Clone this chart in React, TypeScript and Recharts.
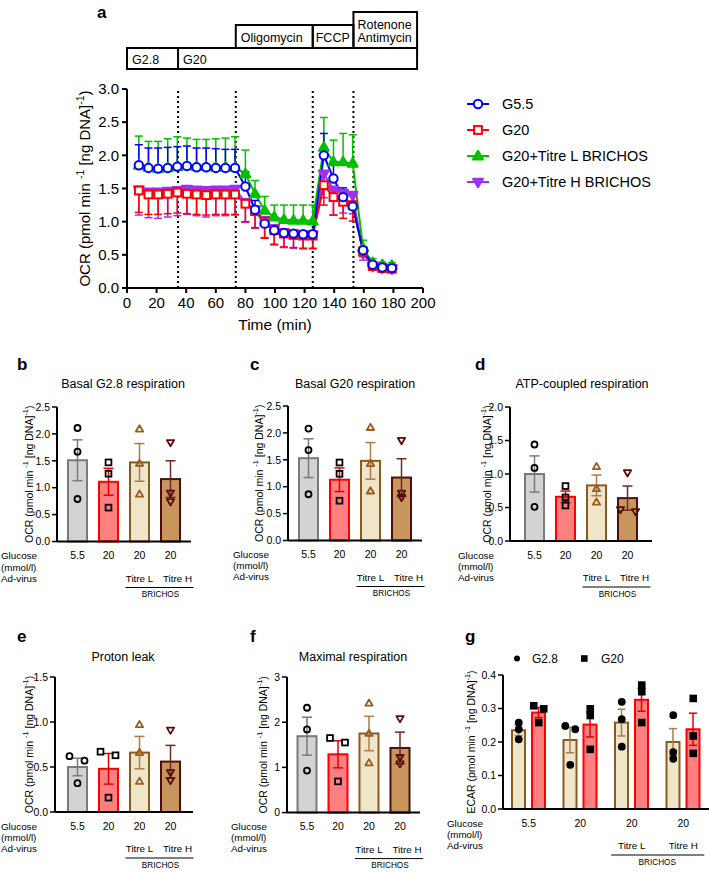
import React from 'react'
import { LineChart, Line, XAxis, YAxis, ReferenceLine, ErrorBar, ComposedChart, Bar } from 'recharts'

const FONT = '"Liberation Sans", Arial, Helvetica, sans-serif'

// ---- a: OCR trace over the assay ----
const times = [8, 14.5, 21, 27.5, 34, 40.5, 47, 53.5, 60, 66.5, 73, 80, 86.5, 93, 99.5, 106, 112.5, 119, 125.5, 133, 139.5, 146, 152.5, 159.5, 166, 172.5, 179]
const ocrG55 = [1.85, 1.81, 1.8, 1.81, 1.83, 1.84, 1.82, 1.82, 1.81, 1.81, 1.81, 1.53, 1.18, 0.97, 0.87, 0.83, 0.82, 0.81, 0.81, 2.0, 1.65, 1.37, 1.23, 0.57, 0.35, 0.31, 0.3]
const ocrG55Sem = [0.31, 0.3, 0.31, 0.31, 0.3, 0.3, 0.29, 0.29, 0.29, 0.28, 0.28, 0.22, 0.14, 0.09, 0.06, 0.05, 0.05, 0.05, 0.05, 0.33, 0.21, 0.14, 0.16, 0.05, 0.03, 0.02, 0.02]
const ocrG20 = [1.47, 1.41, 1.41, 1.42, 1.44, 1.42, 1.41, 1.4, 1.41, 1.41, 1.41, 1.27, 1.16, 1.0, 0.87, 0.82, 0.8, 0.79, 0.79, 1.55, 1.37, 1.3, 1.25, 0.55, 0.33, 0.3, 0.29]
const ocrG20Sem = [0.33, 0.3, 0.3, 0.3, 0.31, 0.3, 0.3, 0.3, 0.3, 0.3, 0.3, 0.27, 0.25, 0.25, 0.21, 0.2, 0.19, 0.19, 0.19, 0.3, 0.27, 0.25, 0.24, 0.08, 0.04, 0.03, 0.03]
const ocrTitreL = [1.85, 1.82, 1.8, 1.81, 1.83, 1.84, 1.83, 1.83, 1.82, 1.82, 1.82, 1.72, 1.42, 1.17, 1.07, 1.03, 1.02, 1.02, 1.01, 2.12, 1.9, 1.9, 1.88, 0.6, 0.38, 0.35, 0.34]
const ocrTitreLSem = [0.44, 0.39, 0.41, 0.44, 0.45, 0.42, 0.41, 0.41, 0.43, 0.44, 0.46, 0.36, 0.2, 0.21, 0.18, 0.22, 0.23, 0.23, 0.24, 0.45, 0.33, 0.43, 0.43, 0.12, 0.06, 0.04, 0.04]
const ocrTitreH = [1.48, 1.45, 1.45, 1.46, 1.47, 1.49, 1.48, 1.47, 1.48, 1.48, 1.49, 1.29, 1.18, 1.02, 0.9, 0.84, 0.82, 0.8, 0.8, 1.72, 1.48, 1.43, 1.4, 0.52, 0.33, 0.3, 0.29]
const ocrTitreHSem = [0.38, 0.39, 0.4, 0.39, 0.38, 0.38, 0.39, 0.4, 0.39, 0.39, 0.39, 0.3, 0.28, 0.26, 0.25, 0.23, 0.22, 0.21, 0.21, 0.36, 0.38, 0.3, 0.28, 0.1, 0.04, 0.03, 0.03]
const injectTimes = [34.5, 73.5, 125.5, 153]
const timeTicks = [0, 20, 40, 60, 80, 100, 120, 140, 160, 180, 200]
const ocrTicks = [0, 0.5, 1, 1.5, 2, 2.5, 3]

// ---- b-f: respiration parameters per condition ----
const glucoseLabels = ['5.5', '20', '20', '20']
const virusLabels = ['', '', 'Titre L', 'Titre H']

const basalG28Mean = [1.51, 1.11, 1.47, 1.16]
const basalG28Sem = [0.38, 0.25, 0.35, 0.34]
const basalG28Pts = [[2.11, 1.67, 0.79], [1.47, 1.26, 0.63], [2.09, 1.45, 0.88], [1.84, 0.9, 0.74]]

const basalG20Mean = [1.53, 1.13, 1.48, 1.17]
const basalG20Sem = [0.36, 0.22, 0.34, 0.35]
const basalG20Pts = [[2.08, 1.68, 0.86], [1.45, 1.24, 0.74], [2.1, 1.43, 0.92], [1.86, 0.88, 0.8]]

const atpMean = [1.0, 0.66, 0.83, 0.64]
const atpSem = [0.27, 0.085, 0.155, 0.18]
const atpPts = [[1.44, 1.09, 0.51], [0.82, 0.65, 0.53], [1.11, 0.78, 0.58], [1.02, 0.47, 0.44]]

const leakMean = [0.5, 0.48, 0.66, 0.56]
const leakSem = [0.097, 0.17, 0.18, 0.18]
const leakPts = [[0.62, 0.57, 0.32], [0.67, 0.63, 0.16], [0.97, 0.66, 0.34], [0.91, 0.44, 0.35]]

const maxMean = [1.69, 1.29, 1.75, 1.43]
const maxSem = [0.42, 0.3, 0.38, 0.35]
const maxPts = [[2.32, 1.84, 0.93], [1.65, 1.55, 0.69], [2.42, 1.75, 1.1], [2.08, 1.22, 1.08]]

// ---- g: ECAR at G2.8 and G20 ----
const ecarG28Mean = [0.235, 0.206, 0.258, 0.2]
const ecarG28Sem = [0.016, 0.038, 0.04, 0.04]
const ecarG28Pts = [[0.258, 0.238, 0.208], [0.248, 0.238, 0.132], [0.32, 0.268, 0.186], [0.28, 0.17, 0.15]]
const ecarG20Mean = [0.288, 0.252, 0.326, 0.238]
const ecarG20Sem = [0.015, 0.037, 0.034, 0.048]
const ecarG20Pts = [[0.308, 0.299, 0.258], [0.299, 0.279, 0.178], [0.37, 0.35, 0.258], [0.33, 0.218, 0.166]]

// horizontal spread of overlapping replicate points (px)
const noJitter = [[0, 0, 0], [0, 0, 0], [0, 0, 0], [0, 0, 0]]
const atpJitter = [[0, 0, 0], [0, 0, 0], [0, 0, 0], [0, -7, 8]]
const leakJitter = [[-8, 7, 0], [-8, 7, 0], [0, 0, 0], [0, 0, 0]]
const maxJitter = [[0, 0, 0], [-8, 7, 0], [0, 0, 0], [0, 0, 0]]
const ecarG28Jitter = [[0, 0, 0], [-5, 5, 0], [0, 0, 0], [0, 0, 0]]
const ecarG20Jitter = [[-5, 5, 0], [0, 0, 0], [0, 0, 0], [0, 0, 0]]

const BLUE = '#0000ff'
const RED = '#ff0000'
const GREEN = '#00c000'
const PURPLE = '#a030f0'

const MARK_KINDS = ['circle', 'square', 'tri', 'itri']
const MARK_COLORS = ['#000', '#000', '#9a5b1b', '#5a0c0c']
const BAR_FILL = ['#d3d3d3', '#ff8080', '#efe5c9', '#c8965c']
const BAR_STROKE = ['#7a7a7a', '#ff0000', '#8a5a1e', '#4c0e0e']
const SEM_STROKE = ['#7a7a7a', '#e00000', '#a87c4c', '#6a2a22']

const ocrRows = times.map((t, i) => ({
  t,
  g55: ocrG55[i], g55Sem: ocrG55Sem[i],
  g20: ocrG20[i], g20Sem: ocrG20Sem[i],
  tl: ocrTitreL[i], tlSem: ocrTitreLSem[i],
  th: ocrTitreH[i], thSem: ocrTitreHSem[i],
}))

const toRows = (mean: number[], sem: number[], pts: number[][]) =>
  mean.map((m, i) => ({ id: `c${i}`, mean: m, sem: sem[i], p1: pts[i][0], p2: pts[i][1], p3: pts[i][2] }))

const ecarRows = ecarG28Mean.map((m, i) => ({
  id: `c${i}`,
  lo: m, loSem: ecarG28Sem[i], lo1: ecarG28Pts[i][0], lo2: ecarG28Pts[i][1], lo3: ecarG28Pts[i][2],
  hi: ecarG20Mean[i], hiSem: ecarG20Sem[i], hi1: ecarG20Pts[i][0], hi2: ecarG20Pts[i][1], hi3: ecarG20Pts[i][2],
}))

function Glyph({ kind, x, y, s, color, fill, sw = 2 }: any) {
  if (kind === 'circle') return <circle cx={x} cy={y} r={s} fill={fill} stroke={color} strokeWidth={sw} />
  if (kind === 'square') return <rect x={x - s} y={y - s} width={2 * s} height={2 * s} fill={fill} stroke={color} strokeWidth={sw} />
  if (kind === 'tri')
    return <polygon points={`${x},${y - s * 1.15} ${x + s * 1.1},${y + s * 0.75} ${x - s * 1.1},${y + s * 0.75}`} fill={fill} stroke={color} strokeWidth={sw} strokeLinejoin="round" />
  return <polygon points={`${x},${y + s * 1.15} ${x + s * 1.1},${y - s * 0.75} ${x - s * 1.1},${y - s * 0.75}`} fill={fill} stroke={color} strokeWidth={sw} strokeLinejoin="round" />
}

function AxisTitle({ viewBox, gap, size, lead }: any) {
  const cx = viewBox.x + viewBox.width - gap
  const cy = viewBox.y + viewBox.height / 2
  const up = size * 0.4
  return (
    <text x={cx} y={cy} dy={size * 0.35} transform={`rotate(-90 ${cx} ${cy})`} textAnchor="middle" fontSize={size} fill="#000">
      {`${lead} (pmol min `}
      <tspan fontSize={size * 0.7} dy={-up}>-1</tspan>
      <tspan dy={up}>{' [ng DNA]'}</tspan>
      <tspan fontSize={size * 0.7} dy={-up}>-1</tspan>
      <tspan dy={up}>)</tspan>
    </text>
  )
}

const seriesDot = (kind: string, color: string, fill: string) => (p: any) => {
  if (p.cx == null || p.cy == null) return <g key={`n-${p.index}`} />
  return <Glyph key={`d-${p.index}`} kind={kind} x={p.cx} y={p.cy} s={kind === 'circle' ? 4.2 : kind === 'square' ? 3.9 : 4.5} color={color} fill={fill} />
}

function OcrTrace() {
  return (
    <div style={{ position: 'absolute', left: 0, top: 0 }}>
      <LineChart width={440} height={340} data={ocrRows} margin={{ top: 89, right: 17, bottom: 7, left: 67 }}>
        <XAxis
          type="number" dataKey="t" domain={[0, 200]} ticks={timeTicks} height={45}
          axisLine={{ stroke: '#000', strokeWidth: 2 }} tickLine={{ stroke: '#000', strokeWidth: 2 }} tickSize={5} tickMargin={4}
          tick={{ fill: '#000', fontSize: 15 }}
          label={(lp: any) => (
            <text x={lp.viewBox.x + lp.viewBox.width / 2} y={lp.viewBox.y + 42} textAnchor="middle" fontSize={15.5} fill="#000">Time (min)</text>
          )}
        />
        <YAxis
          domain={[0, 3]} ticks={ocrTicks} width={60} tickFormatter={(v: number) => v.toFixed(1)}
          axisLine={{ stroke: '#000', strokeWidth: 2 }} tickLine={{ stroke: '#000', strokeWidth: 2 }} tickSize={5} tickMargin={3}
          tick={{ fill: '#000', fontSize: 15 }}
          label={(lp: any) => <AxisTitle {...lp} gap={42} size={15} lead="OCR" />}
        />
        {injectTimes.map((t) => (
          <ReferenceLine key={t} x={t} stroke="#000" strokeWidth={2} strokeDasharray="2 3" />
        ))}
        <Line dataKey="th" stroke={PURPLE} strokeWidth={2} dot={seriesDot('itri', PURPLE, PURPLE)} activeDot={false} isAnimationActive={false}>
          <ErrorBar dataKey={(d: any) => [d.thSem, 0]} direction="y" width={4} stroke={PURPLE} strokeWidth={1.5} />
        </Line>
        <Line dataKey="g20" stroke={RED} strokeWidth={2} dot={seriesDot('square', RED, '#fff')} activeDot={false} isAnimationActive={false}>
          <ErrorBar dataKey={(d: any) => [d.g20Sem, 0]} direction="y" width={4} stroke={RED} strokeWidth={1.5} />
        </Line>
        <Line dataKey="tl" stroke={GREEN} strokeWidth={2} dot={seriesDot('tri', GREEN, GREEN)} activeDot={false} isAnimationActive={false}>
          <ErrorBar dataKey={(d: any) => [0, d.tlSem]} direction="y" width={4} stroke={GREEN} strokeWidth={1.5} />
        </Line>
        <Line dataKey="g55" stroke={BLUE} strokeWidth={2} dot={seriesDot('circle', BLUE, '#fff')} activeDot={false} isAnimationActive={false}>
          <ErrorBar dataKey={(d: any) => [0, d.g55Sem]} direction="y" width={4} stroke={BLUE} strokeWidth={1.5} />
        </Line>
      </LineChart>
    </div>
  )
}

// bar outline plus its SEM whiskers, scaled from the bar's own height
function SemBar({ x, y, width, height, fill, stroke, semColor, mean, sem, cap = 5 }: any) {
  if (height == null || !mean) return <g />
  const e = (sem * height) / mean
  const cx = x + width / 2
  return (
    <g>
      <rect x={x} y={y} width={width} height={height} fill={fill} stroke={stroke} strokeWidth={2} />
      <g stroke={semColor} strokeWidth={1.5}>
        <line x1={cx} x2={cx} y1={y - e} y2={y + e} />
        <line x1={cx - cap} x2={cx + cap} y1={y - e} y2={y - e} />
        <line x1={cx - cap} x2={cx + cap} y1={y + e} y2={y + e} />
      </g>
    </g>
  )
}

const pointDot = (j: number, jitter: number[][], shift = 0, kinds?: string[], colors?: string[], filled = false) => (p: any) => {
  if (p.cx == null || p.cy == null) return <g key={`n-${j}-${p.index}`} />
  const k = kinds ? kinds[p.index] : MARK_KINDS[p.index]
  const c = colors ? colors[p.index] : MARK_COLORS[p.index]
  return (
    <Glyph key={`p-${j}-${p.index}`} kind={k} x={p.cx + shift + jitter[p.index][j]} y={p.cy}
      s={k === 'circle' ? 3 : k === 'square' ? 2.9 : 3.3} color={c} fill={filled ? c : 'none'} sw={1.8} />
  )
}

function ConditionTick({ x, y, index, lift = 7, lineL = -45, lineR = 23, tagX = -10 }: any) {
  return (
    <g fill="#000">
      <text x={x} y={y + 17.5} textAnchor="middle" fontSize={10.5}>{glucoseLabels[index]}</text>
      {virusLabels[index] ? (
        <text x={x + (index === 3 ? lift : 0)} y={y + 40} textAnchor="middle" fontSize={9.8}>{virusLabels[index]}</text>
      ) : null}
      {index === 3 ? (
        <g>
          <line x1={x + lineL} x2={x + lineR} y1={y + 46} y2={y + 46} stroke="#000" strokeWidth={1} />
          <text x={x + tagX} y={y + 55.5} textAnchor="middle" fontSize={8.2}>BRICHOS</text>
        </g>
      ) : null}
    </g>
  )
}

const YW = 40
const TOP = 10
const XH = 62

function BarPanel({ rows, axisX, topY, zeroY, plotW, pad, yMax, yTicks, digits, gap, jitter }: any) {
  const plotH = zeroY - topY
  return (
    <div style={{ position: 'absolute', left: axisX - YW, top: topY - TOP }}>
      <ComposedChart width={YW + plotW + 6} height={TOP + plotH + XH} data={rows} margin={{ top: TOP, right: 6, bottom: 0, left: 0 }}>
        <XAxis
          dataKey="id" padding={{ left: pad, right: pad }} height={XH} interval={0}
          axisLine={{ stroke: '#000', strokeWidth: 2 }} tickLine={false} tickSize={0} tickMargin={0}
          tick={(t: any) => <ConditionTick key={`t-${t.index}`} {...t} />}
        />
        <YAxis
          domain={[0, yMax]} ticks={yTicks} width={YW} tickFormatter={(v: number) => v.toFixed(digits)}
          axisLine={{ stroke: '#000', strokeWidth: 2 }} tickLine={{ stroke: '#000', strokeWidth: 1.5 }} tickSize={5} tickMargin={2}
          tick={{ fill: '#000', fontSize: 10.5 }}
          label={(lp: any) => <AxisTitle {...lp} gap={gap} size={10.5} lead="OCR" />}
        />
        <Bar
          dataKey="mean" barSize={19} isAnimationActive={false}
          shape={(b: any) => (
            <SemBar {...b} fill={BAR_FILL[b.index]} stroke={BAR_STROKE[b.index]} semColor={SEM_STROKE[b.index]} mean={b.payload.mean} sem={b.payload.sem} />
          )}
        />
        {['p1', 'p2', 'p3'].map((k, j) => (
          <Line key={k} dataKey={k} stroke="none" strokeWidth={0} dot={pointDot(j, jitter)} activeDot={false} legendType="none" isAnimationActive={false} />
        ))}
      </ComposedChart>
    </div>
  )
}

const ECAR_BAR = 13
const ECAR_GAP = 7

function EcarPanel() {
  const axisX = 503
  const topY = 675
  const zeroY = 809
  const plotW = 206
  const half = (ECAR_BAR + ECAR_GAP) / 2
  return (
    <div style={{ position: 'absolute', left: axisX - YW, top: topY - TOP }}>
      <ComposedChart width={YW + plotW + 6} height={TOP + zeroY - topY + XH} data={ecarRows} barGap={ECAR_GAP} margin={{ top: TOP, right: 6, bottom: 0, left: 0 }}>
        <XAxis
          dataKey="id" height={XH} interval={0}
          axisLine={{ stroke: '#000', strokeWidth: 2 }} tickLine={false} tickSize={0} tickMargin={0}
          tick={(t: any) => <ConditionTick key={`t-${t.index}`} {...t} lift={0} lineL={-72} lineR={21} tagX={-26} />}
        />
        <YAxis
          domain={[0, 0.4]} ticks={[0, 0.1, 0.2, 0.3, 0.4]} width={YW} tickFormatter={(v: number) => v.toFixed(1)}
          axisLine={{ stroke: '#000', strokeWidth: 2 }} tickLine={{ stroke: '#000', strokeWidth: 1.5 }} tickSize={5} tickMargin={2}
          tick={{ fill: '#000', fontSize: 10.5 }}
          label={(lp: any) => <AxisTitle {...lp} gap={32} size={10.5} lead="ECAR" />}
        />
        <Bar
          dataKey="lo" barSize={ECAR_BAR} isAnimationActive={false}
          shape={(b: any) => <SemBar {...b} fill={BAR_FILL[2]} stroke={BAR_STROKE[2]} semColor={SEM_STROKE[2]} mean={b.payload.lo} sem={b.payload.loSem} cap={4} />}
        />
        <Bar
          dataKey="hi" barSize={ECAR_BAR} isAnimationActive={false}
          shape={(b: any) => <SemBar {...b} fill={BAR_FILL[1]} stroke={BAR_STROKE[1]} semColor={SEM_STROKE[1]} mean={b.payload.hi} sem={b.payload.hiSem} cap={4} />}
        />
        {['lo1', 'lo2', 'lo3'].map((k, j) => (
          <Line key={k} dataKey={k} stroke="none" strokeWidth={0} activeDot={false} legendType="none" isAnimationActive={false}
            dot={pointDot(j, ecarG28Jitter, -half, ['circle', 'circle', 'circle', 'circle'], ['#000', '#000', '#000', '#000'], true)} />
        ))}
        {['hi1', 'hi2', 'hi3'].map((k, j) => (
          <Line key={k} dataKey={k} stroke="none" strokeWidth={0} activeDot={false} legendType="none" isAnimationActive={false}
            dot={pointDot(j, ecarG20Jitter, half, ['square', 'square', 'square', 'square'], ['#000', '#000', '#000', '#000'], true)} />
        ))}
      </ComposedChart>
    </div>
  )
}

// maps assay time onto the trace's x axis (0..200 min across 127..423 px)
const tA = (t: number) => 127 + (t * 296) / 200

function GlucoseKey({ x, axisY }: { x: number; axisY: number }) {
  return (
    <g fontSize={9.8} fill="#000">
      <text x={x} y={axisY + 17.5}>Glucose</text>
      <text x={x} y={axisY + 29}>(mmol/l)</text>
      <text x={x} y={axisY + 40}>Ad-virus</text>
    </g>
  )
}

const ocrLegend = [
  { name: 'G5.5', kind: 'circle', color: BLUE, fill: '#fff' },
  { name: 'G20', kind: 'square', color: RED, fill: '#fff' },
  { name: 'G20+Titre L BRICHOS', kind: 'tri', color: GREEN, fill: GREEN },
  { name: 'G20+Titre H BRICHOS', kind: 'itri', color: PURPLE, fill: PURPLE },
]

function Overlay() {
  return (
    <svg width={709} height={873} style={{ position: 'absolute', left: 0, top: 0, pointerEvents: 'none' }}>
      {/* panel letters */}
      <g fontSize={17} fontWeight="bold" fill="#000">
        <text x={97} y={18}>a</text>
        <text x={17} y={370}>b</text>
        <text x={250} y={370}>c</text>
        <text x={475} y={370}>d</text>
        <text x={17} y={642}>e</text>
        <text x={250} y={642}>f</text>
        <text x={465} y={642}>g</text>
      </g>

      {/* treatment timeline above the trace */}
      <g fill="none" stroke="#000" strokeWidth={2}>
        <rect x={tA(0)} y={48} width={tA(196) - tA(0)} height={21} />
        <line x1={tA(34.5)} x2={tA(34.5)} y1={48} y2={69} />
        <rect x={tA(73.5)} y={25} width={tA(125.5) - tA(73.5)} height={23} />
        <rect x={tA(125.5)} y={25} width={tA(153) - tA(125.5)} height={23} />
        <rect x={tA(153)} y={12} width={tA(196) - tA(153)} height={36} />
      </g>
      <g fontSize={12.5} fill="#000">
        <text x={tA(0) + 5} y={64}>G2.8</text>
        <text x={tA(34.5) + 5} y={64}>G20</text>
        <text x={tA(73.5) + 5} y={41.5}>Oligomycin</text>
        <text x={tA(125.5) + 3} y={41.5}>FCCP</text>
        <text x={tA(153) + 4} y={28.5}>Rotenone</text>
        <text x={tA(153) + 4} y={41.5}>Antimycin</text>
      </g>

      {/* trace legend */}
      {ocrLegend.map((it, i) => {
        const y = 104 + i * 26
        return (
          <g key={it.name}>
            <line x1={467} x2={489} y1={y} y2={y} stroke={it.color} strokeWidth={2} />
            <Glyph kind={it.kind} x={478} y={y} s={it.kind === 'circle' ? 4.2 : it.kind === 'square' ? 3.9 : 4.5} color={it.color} fill={it.fill} />
            <text x={502} y={y + 5} fontSize={14.5} fill="#000">{it.name}</text>
          </g>
        )
      })}

      {/* panel titles */}
      <g fontSize={12.5} fill="#000" textAnchor="middle">
        <text x={123} y={388}>Basal G2.8 respiration</text>
        <text x={355} y={388}>Basal G20 respiration</text>
        <text x={582} y={388}>ATP-coupled respiration</text>
        <text x={123} y={661}>Proton leak</text>
        <text x={353} y={661}>Maximal respiration</text>
      </g>

      <GlucoseKey x={1} axisY={541.5} />
      <GlucoseKey x={233} axisY={540} />
      <GlucoseKey x={458} axisY={541.3} />
      <GlucoseKey x={1} axisY={812.3} />
      <GlucoseKey x={231} axisY={812.3} />
      <GlucoseKey x={447} axisY={809} />

      {/* ECAR legend */}
      <circle cx={517} cy={658.5} r={3} fill="#000" />
      <text x={532} y={662.5} fontSize={12} fill="#000">G2.8</text>
      <rect x={581} y={655.2} width={6.6} height={6.6} fill="#000" />
      <text x={601} y={662.5} fontSize={12} fill="#000">G20</text>
    </svg>
  )
}

export default function App() {
  return (
    <div style={{ position: 'absolute', left: 0, top: 0, width: 709, height: 873, background: '#fff', overflow: 'hidden', fontFamily: FONT }}>
      <OcrTrace />
      <BarPanel rows={toRows(basalG28Mean, basalG28Sem, basalG28Pts)} axisX={57} topY={407} zeroY={541.5} plotW={134} pad={5}
        yMax={2.5} yTicks={[0, 0.5, 1, 1.5, 2, 2.5]} digits={1} gap={28} jitter={noJitter} />
      <BarPanel rows={toRows(basalG20Mean, basalG20Sem, basalG20Pts)} axisX={288} topY={405.5} zeroY={540} plotW={134} pad={5}
        yMax={2.5} yTicks={[0, 0.5, 1, 1.5, 2, 2.5]} digits={1} gap={29} jitter={noJitter} />
      <BarPanel rows={toRows(atpMean, atpSem, atpPts)} axisX={510} topY={407.3} zeroY={541.3} plotW={142} pad={9}
        yMax={2} yTicks={[0, 0.5, 1, 1.5, 2]} digits={1} gap={23} jitter={atpJitter} />
      <BarPanel rows={toRows(leakMean, leakSem, leakPts)} axisX={55} topY={677.3} zeroY={812.3} plotW={138} pad={7}
        yMax={1.5} yTicks={[0, 0.5, 1, 1.5]} digits={1} gap={26} jitter={leakJitter} />
      <BarPanel rows={toRows(maxMean, maxSem, maxPts)} axisX={287} topY={676.7} zeroY={812.3} plotW={133} pad={4.5}
        yMax={3} yTicks={[0, 1, 2, 3]} digits={0} gap={24} jitter={maxJitter} />
      <EcarPanel />
      <Overlay />
    </div>
  )
}
